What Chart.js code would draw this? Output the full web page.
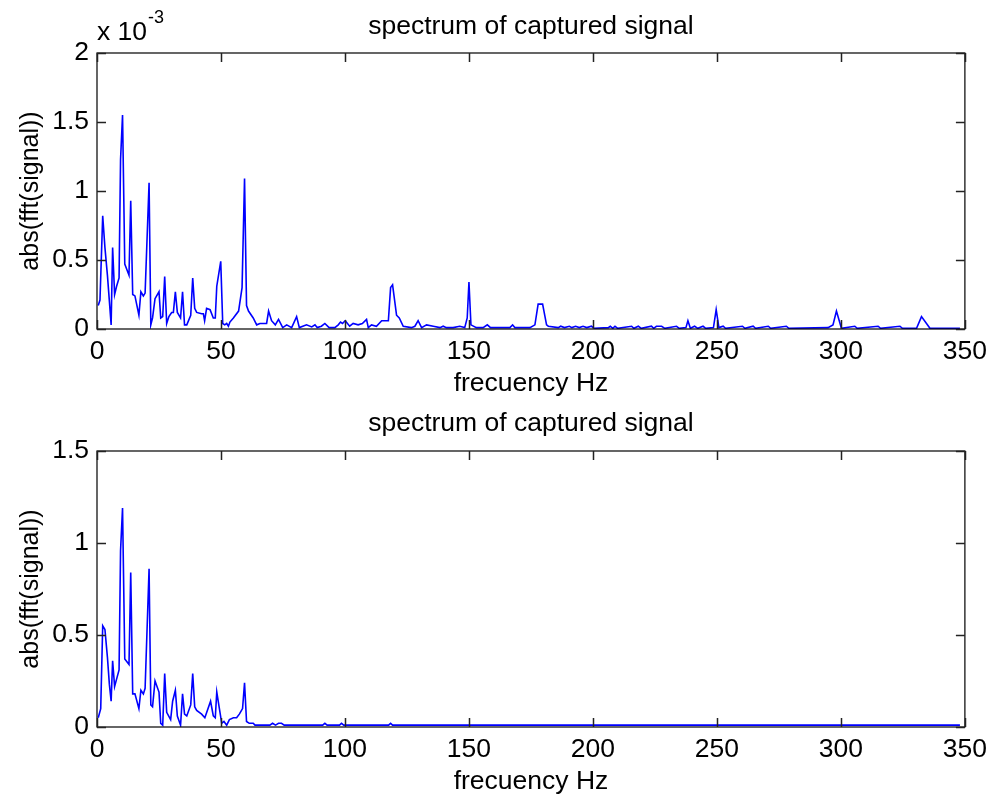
<!DOCTYPE html>
<html>
<head>
<meta charset="utf-8">
<script src="https://cdn.jsdelivr.net/npm/chart.js@4.4.0/dist/chart.umd.min.js"></script>
<style>
  html, body { margin: 0; padding: 0; background: #ffffff; overflow: hidden; }
  .panel { position: absolute; left: 0; width: 994px; height: 400px; }
</style>
</head>
<body>
<div class="panel" style="top:0"><canvas id="topChart"></canvas></div>
<div class="panel" style="top:398px"><canvas id="bottomChart"></canvas></div>
<script>
// Amplitudes are in units of 1e-3 (shown by the "x 10^-3" axis multiplier).
const xTicks = [0, 50, 100, 150, 200, 250, 300, 350];
const topYTicks = [0, 0.5, 1, 1.5, 2];
const bottomYTicks = [0, 0.5, 1, 1.5];

const titleText = 'spectrum of captured signal';
const xLabel = 'frecuency Hz';
const yLabel = 'abs(fft(signal))';

// Upper panel: frequency (Hz) and |FFT| of the captured signal
const topFreq = [
  0.5, 1.2, 2.3, 3.2, 4.2, 5.0, 5.7, 6.3, 7.1, 7.9, 8.9, 9.5, 10.3, 11.2, 12.9, 13.6, 14.4, 15.3, 16.9, 17.7,
  18.7, 19.4, 21.0, 21.7, 22.4, 23.4, 25.0, 25.7, 26.5, 27.3, 28.1, 29.0, 30.1, 30.8, 31.6, 32.4, 33.7, 34.5, 35.3, 36.2,
  37.8, 38.6, 39.4, 40.2, 42.2, 42.9, 43.4, 44.2, 45.6, 46.9, 47.7, 48.3, 49.9, 50.7, 51.5, 52.3, 53.0, 53.6, 55.0, 57.1,
  58.5, 59.5, 60.3, 61.1, 63.0, 64.4, 65.7, 67.0, 68.4, 69.2, 70.4, 71.9, 73.2, 74.9, 76.5, 78.5, 80.5, 81.6, 84.5, 86.6,
  87.9, 88.8, 90.5, 91.9, 93.6, 95.9, 97.3, 98.2, 99.0, 100.1, 101.9, 103.3, 105.3, 107.0, 108.7, 109.4, 110.7, 112.7, 114.8, 117.5,
  118.4, 119.2, 120.8, 121.9, 123.5, 126.8, 128.2, 129.5, 130.9, 132.9, 135.6, 138.3, 139.6, 140.9, 143.6, 146.3, 148.3, 149.3, 150.0, 150.8,
  153.0, 155.7, 157.4, 158.7, 162.5, 166.5, 167.6, 168.5, 174.6, 176.6, 177.9, 179.7, 181.3, 182.0, 186.0, 187.0, 188.5, 190.5, 191.5, 193.0,
  194.5, 196.0, 197.5, 199.4, 200.5, 206.2, 207.0, 208.0, 208.9, 210.0, 215.6, 216.5, 218.3, 219.5, 223.6, 224.5, 225.6, 227.7, 229.0, 233.7,
  234.8, 237.5, 238.3, 239.3, 241.0, 242.3, 244.4, 245.5, 248.6, 249.7, 250.8, 252.5, 253.5, 260.3, 261.3, 264.6, 265.6, 270.7, 271.7, 278.0,
  279.0, 294.8, 296.8, 298.2, 300.2, 305.6, 306.6, 315.0, 316.0, 323.8, 324.8, 330.5, 332.5, 335.9, 348.0
];
const topAmp = [
  0.17, 0.21, 0.82, 0.59, 0.39, 0.20, 0.03, 0.59, 0.25, 0.31, 0.37, 1.23, 1.55, 0.47, 0.39, 0.93, 0.25, 0.24, 0.10, 0.27,
  0.24, 0.26, 1.06, 0.03, 0.08, 0.22, 0.27, 0.08, 0.09, 0.38, 0.04, 0.09, 0.12, 0.12, 0.27, 0.12, 0.08, 0.27, 0.03, 0.03,
  0.10, 0.37, 0.15, 0.12, 0.11, 0.11, 0.06, 0.15, 0.14, 0.08, 0.08, 0.31, 0.49, 0.04, 0.03, 0.04, 0.02, 0.05, 0.08, 0.13,
  0.30, 1.09, 0.17, 0.13, 0.08, 0.03, 0.04, 0.04, 0.04, 0.13, 0.06, 0.03, 0.07, 0.01, 0.03, 0.01, 0.09, 0.01, 0.03, 0.015,
  0.03, 0.01, 0.02, 0.04, 0.01, 0.01, 0.03, 0.05, 0.04, 0.06, 0.02, 0.04, 0.03, 0.04, 0.07, 0.01, 0.03, 0.02, 0.06, 0.06,
  0.30, 0.32, 0.10, 0.08, 0.02, 0.01, 0.02, 0.06, 0.01, 0.03, 0.02, 0.01, 0.02, 0.01, 0.01, 0.02, 0.01, 0.08, 0.34, 0.03,
  0.01, 0.01, 0.03, 0.01, 0.01, 0.01, 0.03, 0.01, 0.01, 0.03, 0.18, 0.18, 0.03, 0.02, 0.01, 0.02, 0.01, 0.02, 0.01, 0.02,
  0.01, 0.02, 0.01, 0.02, 0.005, 0.01, 0.02, 0.005, 0.02, 0.005, 0.02, 0.005, 0.02, 0.005, 0.02, 0.005, 0.02, 0.02, 0.005, 0.02,
  0.005, 0.01, 0.06, 0.005, 0.02, 0.005, 0.02, 0.005, 0.01, 0.14, 0.01, 0.02, 0.005, 0.02, 0.005, 0.02, 0.005, 0.02, 0.005, 0.02,
  0.005, 0.01, 0.03, 0.13, 0.005, 0.02, 0.005, 0.02, 0.005, 0.02, 0.005, 0.005, 0.09, 0.005, 0.005
];

// Lower panel: same signal after filtering
const bottomFreq = [
  0.5, 1.5, 2.3, 3.2, 4.2, 5.0, 5.7, 6.3, 7.1, 7.9, 8.9, 9.5, 10.3, 11.2, 12.9, 13.6, 14.4, 15.3, 16.9, 17.7,
  18.7, 19.4, 21.0, 21.7, 22.4, 23.4, 25.0, 25.7, 26.5, 27.3, 28.1, 29.7, 30.5, 31.6, 32.4, 33.7, 34.5, 35.3, 36.2, 37.8,
  38.6, 39.4, 40.2, 42.2, 43.5, 45.8, 46.9, 47.7, 48.3, 50.3, 51.2, 52.3, 53.4, 55.0, 56.3, 57.4, 58.7, 59.5, 60.3, 61.4,
  63.0, 63.7, 69.7, 70.8, 72.0, 73.2, 74.4, 75.5, 91.0, 91.9, 92.8, 97.8, 98.6, 99.5, 117.6, 118.4, 119.2, 348.0
];
const bottomAmp = [
  0.05, 0.10, 0.55, 0.53, 0.38, 0.23, 0.14, 0.36, 0.22, 0.26, 0.31, 0.96, 1.19, 0.37, 0.34, 0.84, 0.18, 0.18, 0.10, 0.20,
  0.18, 0.21, 0.86, 0.12, 0.11, 0.25, 0.19, 0.02, 0.01, 0.29, 0.08, 0.04, 0.14, 0.20, 0.06, 0.01, 0.18, 0.07, 0.06, 0.12,
  0.29, 0.11, 0.09, 0.07, 0.05, 0.14, 0.06, 0.05, 0.19, 0.02, 0.03, 0.01, 0.04, 0.05, 0.05, 0.07, 0.10, 0.24, 0.03, 0.02,
  0.02, 0.01, 0.01, 0.02, 0.01, 0.02, 0.02, 0.01, 0.01, 0.02, 0.01, 0.01, 0.02, 0.01, 0.01, 0.02, 0.01, 0.01
];

const FONT = '"Liberation Sans", Arial, Helvetica, sans-serif';
const H_FONT = 26.5;   // horizontal text
const V_FONT = 25;     // rotated y-axis label

// Draws the boxed axes with inward ticks on all four sides, the panel title
// and (optionally) the power-of-ten multiplier.
const axesFrame = {
  id: 'axesFrame',
  afterDraw(chart, args, opts) {
    const { ctx, chartArea: a, scales: { x, y } } = chart;
    ctx.save();
    ctx.strokeStyle = '#000';
    ctx.lineWidth = 1.2;
    ctx.strokeRect(a.left, a.top, a.right - a.left, a.bottom - a.top);

    const len = 9;
    ctx.strokeStyle = '#222';
    ctx.lineWidth = 1.5;
    ctx.beginPath();
    xTicks.forEach(v => {
      const px = Math.round(x.getPixelForValue(v)) + 0.5;
      ctx.moveTo(px, a.bottom); ctx.lineTo(px, a.bottom - len);
      ctx.moveTo(px, a.top); ctx.lineTo(px, a.top + len);
    });
    opts.yTicks.forEach(v => {
      const py = Math.round(y.getPixelForValue(v)) + 0.5;
      ctx.moveTo(a.left, py); ctx.lineTo(a.left + len, py);
      ctx.moveTo(a.right, py); ctx.lineTo(a.right - len, py);
    });
    ctx.stroke();

    ctx.fillStyle = '#000';
    ctx.font = H_FONT + 'px ' + FONT;
    ctx.textAlign = 'center';
    ctx.textBaseline = 'middle';
    ctx.fillText(titleText, (a.left + a.right) / 2, opts.titleY);

    if (opts.exponent) {
      ctx.textAlign = 'left';
      ctx.fillText('x 10', a.left, 33);
      const w = ctx.measureText('x 10').width;
      ctx.font = '18px ' + FONT;
      ctx.fillText(opts.exponent, a.left + w + 1, 18);
    }
    ctx.restore();
  }
};

function makePanel(canvasId, freq, amp, yTicks, titleY, exponent) {
  const points = freq.map((f, i) => ({ x: f, y: amp[i] }));
  const tickFont = { family: FONT, size: H_FONT };
  return new Chart(document.getElementById(canvasId), {
    type: 'line',
    data: {
      datasets: [{
        data: points,
        borderColor: '#0000ff',
        borderWidth: 1.6,
        pointRadius: 0,
        tension: 0,
        fill: false
      }]
    },
    options: {
      responsive: true,
      maintainAspectRatio: false,
      animation: false,
      events: [],
      layout: { padding: { top: 53, right: 24, left: 0, bottom: 0 } },
      plugins: {
        legend: { display: false },
        tooltip: { enabled: false },
        title: { display: false },
        axesFrame: { yTicks: yTicks, titleY: titleY, exponent: exponent }
      },
      scales: {
        x: {
          type: 'linear',
          min: xTicks[0],
          max: xTicks[xTicks.length - 1],
          afterBuildTicks(scale) { scale.ticks = xTicks.map(v => ({ value: v })); },
          ticks: { color: '#000', font: tickFont, padding: 7, maxRotation: 0, autoSkip: false,
                   callback: v => String(v) },
          grid: { display: false, drawTicks: false },
          border: { display: false },
          title: { display: true, text: xLabel, color: '#000', font: tickFont, padding: { top: 0, bottom: 0 } },
          afterFit(scale) { scale.height = 71; }
        },
        y: {
          type: 'linear',
          min: yTicks[0],
          max: yTicks[yTicks.length - 1],
          afterBuildTicks(scale) { scale.ticks = yTicks.map(v => ({ value: v })); },
          ticks: { color: '#000', font: tickFont, padding: 8, callback: v => String(v) },
          grid: { display: false, drawTicks: false },
          border: { display: false },
          title: { display: true, text: yLabel, color: '#000', font: { family: FONT, size: V_FONT },
                   padding: { top: 16, bottom: 0 } },
          afterFit(scale) { scale.width = 97; }
        }
      }
    },
    plugins: [axesFrame]
  });
}

makePanel('topChart', topFreq, topAmp, topYTicks, 27, '-3');
makePanel('bottomChart', bottomFreq, bottomAmp, bottomYTicks, 26, null);
</script>
</body>
</html>
